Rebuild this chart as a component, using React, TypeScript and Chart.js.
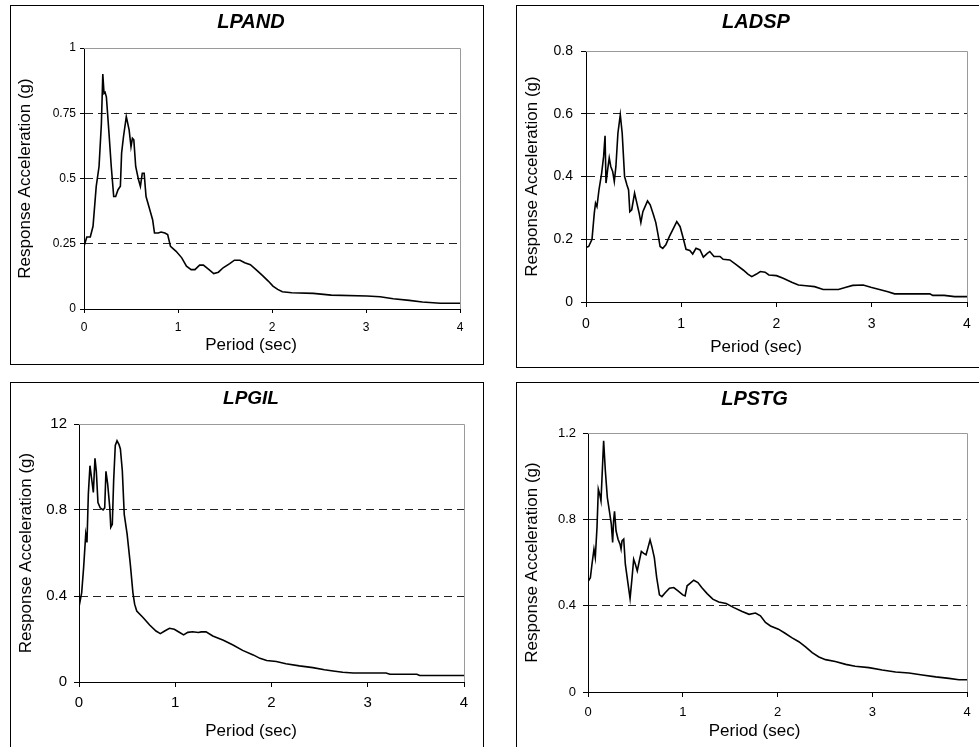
import React, { useEffect, useRef } from 'react';
import { Chart, registerables } from 'chart.js';

Chart.register(...registerables);

// ---------- data ----------
const xTickValues = [0, 1, 2, 3, 4];
const xTickLabels = ['0', '1', '2', '3', '4'];

const lpandPeriod = [0, 0.03, 0.067, 0.096, 0.13, 0.16, 0.185, 0.2, 0.213, 0.224, 0.238, 0.266, 0.29, 0.316, 0.337, 0.362, 0.387, 0.4, 0.42, 0.45, 0.48, 0.5, 0.515, 0.53, 0.55, 0.58, 0.6, 0.62, 0.64, 0.66, 0.7, 0.73, 0.75, 0.79, 0.82, 0.86, 0.89, 0.92, 0.98, 1.04, 1.09, 1.14, 1.18, 1.23, 1.27, 1.33, 1.38, 1.43, 1.48, 1.55, 1.6, 1.66, 1.71, 1.77, 1.83, 1.9, 1.96, 2.01, 2.06, 2.11, 2.21, 2.44, 2.63, 3.01, 3.15, 3.29, 3.46, 3.6, 3.79, 4.0];
const lpandAccel = [0.24, 0.276, 0.276, 0.317, 0.47, 0.546, 0.71, 0.9, 0.826, 0.83, 0.813, 0.673, 0.546, 0.431, 0.431, 0.457, 0.47, 0.597, 0.66, 0.737, 0.686, 0.622, 0.654, 0.648, 0.546, 0.495, 0.47, 0.52, 0.52, 0.431, 0.38, 0.342, 0.291, 0.291, 0.295, 0.291, 0.285, 0.24, 0.221, 0.196, 0.164, 0.151, 0.151, 0.168, 0.168, 0.151, 0.136, 0.141, 0.158, 0.174, 0.187, 0.187, 0.177, 0.17, 0.151, 0.128, 0.107, 0.088, 0.075, 0.066, 0.062, 0.06, 0.053, 0.05, 0.047, 0.039, 0.033, 0.027, 0.022, 0.022];
const lpandYTicks = [0, 0.25, 0.5, 0.75, 1];
const lpandYLabels = ['0', '0.25', '0.5', '0.75', '1'];

const ladspPeriod = [0, 0.028, 0.063, 0.087, 0.1, 0.115, 0.136, 0.164, 0.185, 0.2, 0.21, 0.227, 0.244, 0.26, 0.28, 0.297, 0.314, 0.335, 0.36, 0.38, 0.405, 0.43, 0.447, 0.46, 0.48, 0.51, 0.534, 0.558, 0.576, 0.597, 0.62, 0.646, 0.674, 0.708, 0.733, 0.754, 0.778, 0.806, 0.838, 0.876, 0.91, 0.953, 0.988, 1.016, 1.05, 1.09, 1.12, 1.155, 1.197, 1.232, 1.274, 1.3, 1.344, 1.407, 1.44, 1.51, 1.58, 1.65, 1.7, 1.74, 1.79, 1.83, 1.88, 1.92, 2.0, 2.07, 2.16, 2.23, 2.31, 2.4, 2.49, 2.65, 2.73, 2.8, 2.91, 2.99, 3.08, 3.17, 3.24, 3.4, 3.61, 3.64, 3.76, 3.87, 4.0];
const ladspAccel = [0.174, 0.177, 0.2, 0.283, 0.315, 0.304, 0.357, 0.41, 0.464, 0.53, 0.379, 0.421, 0.459, 0.432, 0.416, 0.384, 0.432, 0.538, 0.597, 0.538, 0.4, 0.373, 0.357, 0.288, 0.294, 0.347, 0.315, 0.283, 0.253, 0.288, 0.304, 0.322, 0.31, 0.278, 0.253, 0.219, 0.177, 0.171, 0.182, 0.209, 0.23, 0.256, 0.24, 0.209, 0.168, 0.164, 0.153, 0.171, 0.166, 0.143, 0.155, 0.161, 0.145, 0.145, 0.136, 0.134, 0.118, 0.102, 0.089, 0.081, 0.089, 0.097, 0.095, 0.086, 0.084, 0.076, 0.063, 0.054, 0.052, 0.049, 0.04, 0.04, 0.047, 0.053, 0.054, 0.047, 0.04, 0.033, 0.026, 0.026, 0.026, 0.021, 0.021, 0.017, 0.017];
const ladspYTicks = [0, 0.2, 0.4, 0.6, 0.8];
const ladspYLabels = ['0', '0.2', '0.4', '0.6', '0.8'];

const lpgilPeriod = [0, 0.028, 0.048, 0.07, 0.083, 0.097, 0.114, 0.13, 0.149, 0.166, 0.18, 0.197, 0.22, 0.25, 0.267, 0.28, 0.298, 0.32, 0.33, 0.346, 0.36, 0.377, 0.395, 0.416, 0.43, 0.45, 0.47, 0.5, 0.533, 0.56, 0.578, 0.6, 0.665, 0.734, 0.8, 0.845, 0.89, 0.94, 0.99, 1.046, 1.087, 1.13, 1.18, 1.24, 1.27, 1.32, 1.39, 1.5, 1.6, 1.7, 1.81, 1.88, 1.95, 2.05, 2.15, 2.29, 2.43, 2.55, 2.64, 2.74, 2.85, 3.19, 3.23, 3.51, 3.54, 4.0];
const lpgilAccel = [0.35, 0.416, 0.532, 0.688, 0.649, 0.874, 1.006, 0.95, 0.882, 1.04, 0.98, 0.835, 0.81, 0.8, 0.81, 0.98, 0.92, 0.81, 0.72, 0.734, 0.936, 1.1, 1.122, 1.104, 1.084, 0.983, 0.78, 0.688, 0.548, 0.416, 0.362, 0.33, 0.3, 0.265, 0.237, 0.225, 0.237, 0.25, 0.245, 0.23, 0.219, 0.231, 0.234, 0.23, 0.233, 0.233, 0.214, 0.194, 0.172, 0.147, 0.126, 0.11, 0.1, 0.095, 0.085, 0.075, 0.067, 0.057, 0.051, 0.045, 0.042, 0.042, 0.036, 0.036, 0.03, 0.03];
const lpgilYTicks = [0, 0.4, 0.8, 1.2];
const lpgilYLabels = ['0', '0.4', '0.8', '12'];

const lpstgPeriod = [0, 0.025, 0.042, 0.063, 0.077, 0.095, 0.109, 0.123, 0.137, 0.151, 0.165, 0.183, 0.204, 0.225, 0.246, 0.26, 0.27, 0.28, 0.296, 0.317, 0.338, 0.349, 0.359, 0.377, 0.394, 0.423, 0.444, 0.465, 0.482, 0.5, 0.52, 0.542, 0.563, 0.588, 0.613, 0.634, 0.655, 0.676, 0.7, 0.725, 0.754, 0.78, 0.817, 0.86, 0.905, 0.95, 1.0, 1.025, 1.046, 1.08, 1.116, 1.16, 1.2, 1.257, 1.317, 1.38, 1.458, 1.54, 1.627, 1.7, 1.768, 1.82, 1.873, 1.926, 2.01, 2.08, 2.15, 2.225, 2.296, 2.366, 2.437, 2.507, 2.61, 2.72, 2.82, 2.965, 3.105, 3.246, 3.387, 3.528, 3.67, 3.81, 3.915, 4.0];
const lpstgAccel = [0.512, 0.53, 0.592, 0.662, 0.623, 0.762, 0.94, 0.917, 0.886, 1.025, 1.164, 1.025, 0.901, 0.84, 0.778, 0.693, 0.793, 0.837, 0.747, 0.708, 0.685, 0.662, 0.7, 0.708, 0.592, 0.5, 0.433, 0.53, 0.615, 0.592, 0.561, 0.608, 0.651, 0.642, 0.636, 0.67, 0.705, 0.67, 0.623, 0.53, 0.45, 0.442, 0.461, 0.481, 0.484, 0.468, 0.45, 0.445, 0.492, 0.504, 0.518, 0.507, 0.484, 0.456, 0.43, 0.417, 0.41, 0.391, 0.373, 0.36, 0.366, 0.353, 0.322, 0.306, 0.291, 0.272, 0.252, 0.233, 0.209, 0.182, 0.162, 0.15, 0.141, 0.128, 0.119, 0.113, 0.102, 0.093, 0.088, 0.079, 0.07, 0.063, 0.057, 0.057];
const lpstgYTicks = [0, 0.4, 0.8, 1.2];
const lpstgYLabels = ['0', '0.4', '0.8', '1.2'];

const xAxisTitle = 'Period (sec)';
const yAxisTitle = 'Response Acceleration (g)';

// ---------- layout (page pixel geometry) ----------
type Geo = {
  box: { x: number; y: number; w: number; h: number };
  plot: { l: number; t: number; r: number; b: number };
  center: number; titleY: number; titleSize: number;
  xTitleY: number; yTitleX: number;
  tickSize: number; tickLen: number; yPad: number; xPad: number;
};

const FONT = "'Liberation Sans', Arial, Helvetica, sans-serif";
const AXIS_TITLE_SIZE = 17;

const panels = [
  {
    title: 'LPAND', period: lpandPeriod, accel: lpandAccel, yTicks: lpandYTicks, yLabels: lpandYLabels,
    geo: { box: { x: 10, y: 5, w: 474, h: 360 }, plot: { l: 84, t: 48, r: 460, b: 309 }, center: 251, titleY: 22, titleSize: 20, xTitleY: 345, yTitleX: 25, tickSize: 12, tickLen: 4, yPad: 4, xPad: 7.8 } as Geo,
  },
  {
    title: 'LADSP', period: ladspPeriod, accel: ladspAccel, yTicks: ladspYTicks, yLabels: ladspYLabels,
    geo: { box: { x: 516, y: 5, w: 500, h: 363 }, plot: { l: 586, t: 51, r: 967, b: 302 }, center: 756, titleY: 22.5, titleSize: 20, xTitleY: 347.5, yTitleX: 532, tickSize: 14, tickLen: 5, yPad: 8, xPad: 8.6 } as Geo,
  },
  {
    title: 'LPGIL', period: lpgilPeriod, accel: lpgilAccel, yTicks: lpgilYTicks, yLabels: lpgilYLabels,
    geo: { box: { x: 10, y: 382, w: 474, h: 400 }, plot: { l: 79, t: 424, r: 464, b: 682 }, center: 251, titleY: 399, titleSize: 19, xTitleY: 731.7, yTitleX: 26, tickSize: 15, tickLen: 5, yPad: 7, xPad: 6.5 } as Geo,
  },
  {
    title: 'LPSTG', period: lpstgPeriod, accel: lpstgAccel, yTicks: lpstgYTicks, yLabels: lpstgYLabels,
    geo: { box: { x: 516, y: 382, w: 500, h: 400 }, plot: { l: 588, t: 433, r: 967, b: 692 }, center: 754.5, titleY: 399.7, titleSize: 20, xTitleY: 731, yTitleX: 532, tickSize: 13, tickLen: 5, yPad: 7, xPad: 7.7 } as Geo,
  },
];

const framePlugin = {
  id: 'greyFrame',
  beforeDatasetsDraw(chart: any) {
    const { ctx, chartArea: a } = chart;
    ctx.save();
    ctx.strokeStyle = '#9a9a9a';
    ctx.lineWidth = 1;
    ctx.beginPath();
    ctx.moveTo(a.left, Math.round(a.top) + 0.5);
    ctx.lineTo(Math.round(a.right) + 0.5, Math.round(a.top) + 0.5);
    ctx.lineTo(Math.round(a.right) + 0.5, a.bottom);
    ctx.stroke();
    ctx.restore();
  },
};

function canvasRect(g: Geo) {
  const cx = g.box.x + 1;
  const cy = g.box.y + 1;
  const cw = Math.round(2 * (g.center - cx));
  const innerBottom = Math.min(g.box.y + g.box.h - 1, 747);
  const ch = innerBottom - cy;
  return { cx, cy, cw, ch };
}

function buildConfig(p: typeof panels[number]) {
  const g = p.geo;
  const { cx, cy, cw, ch } = canvasRect(g);
  const plotT = g.plot.t - cy;
  const plotB = g.plot.b - cy;
  const tPadTop = g.titleY - cy - g.titleSize / 2;
  const tPadBottom = plotT - g.titleSize - tPadTop;
  const hx = g.xTitleY - g.plot.b - AXIS_TITLE_SIZE / 2;
  const sPadBottom = ch - plotB - hx - AXIS_TITLE_SIZE;
  const yWidth = g.plot.l - cx;
  const rightGap = cw - (g.plot.r - cx);
  const yTitlePad = g.yTitleX - cx - AXIS_TITLE_SIZE / 2;
  const yMax = p.yTicks[p.yTicks.length - 1];

  return {
    type: 'line' as const,
    data: {
      datasets: [
        {
          data: p.period.map((t, i) => ({ x: t, y: p.accel[i] })),
          borderColor: '#000',
          borderWidth: 1.6,
          pointRadius: 0,
          tension: 0,
          fill: false,
        },
      ],
    },
    options: {
      responsive: false,
      animation: false as const,
      devicePixelRatio: 1,
      layout: { padding: 0 },
      plugins: {
        legend: { display: false },
        tooltip: { enabled: false },
        title: {
          display: true,
          text: p.title,
          color: '#000',
          font: { family: FONT, size: g.titleSize, weight: 'bold' as const, style: 'italic' as const, lineHeight: 1 },
          padding: { top: tPadTop, bottom: tPadBottom },
        },
        subtitle: {
          display: true,
          position: 'bottom' as const,
          text: xAxisTitle,
          color: '#000',
          font: { family: FONT, size: AXIS_TITLE_SIZE, lineHeight: 1 },
          padding: { top: 0, bottom: sPadBottom },
        },
      },
      scales: {
        x: {
          type: 'linear' as const,
          min: 0,
          max: 4,
          afterBuildTicks: (s: any) => { s.ticks = xTickValues.map((v) => ({ value: v })); },
          afterFit: (s: any) => { s.height = hx; },
          ticks: {
            callback: (_v: any, i: number) => xTickLabels[i],
            color: '#000',
            font: { family: FONT, size: g.tickSize },
            padding: g.xPad,
            maxRotation: 0,
          },
          grid: { drawOnChartArea: false, drawTicks: true, tickLength: g.tickLen, tickColor: '#000', tickBorderDash: [], color: '#000' },
          border: { display: true, color: '#000', width: 1 },
        },
        y: {
          type: 'linear' as const,
          min: 0,
          max: yMax,
          afterBuildTicks: (s: any) => { s.ticks = p.yTicks.map((v) => ({ value: v })); },
          afterFit: (s: any) => { s.width = yWidth; },
          ticks: {
            callback: (_v: any, i: number) => p.yLabels[i],
            color: '#000',
            font: { family: FONT, size: g.tickSize },
            padding: g.yPad,
          },
          title: {
            display: true,
            text: yAxisTitle,
            color: '#000',
            font: { family: FONT, size: AXIS_TITLE_SIZE, lineHeight: 1 },
            padding: { top: yTitlePad, bottom: 0 },
          },
          grid: {
            drawOnChartArea: true,
            drawTicks: true,
            tickLength: g.tickLen,
            tickColor: '#000',
            tickBorderDash: [],
            lineWidth: 1,
            color: (c: any) => (c.index === 0 || c.index === p.yTicks.length - 1 ? 'rgba(0,0,0,0)' : '#222'),
          },
          border: { display: true, color: '#000', width: 1, dash: [8, 5] },
        },
        yr: {
          type: 'linear' as const,
          position: 'right' as const,
          display: true,
          min: 0,
          max: 1,
          afterFit: (s: any) => { s.width = rightGap; },
          ticks: { display: false },
          grid: { display: false, drawTicks: false },
          border: { display: false },
        },
      },
    },
    plugins: [framePlugin],
  };
}

function Panel({ p }: { p: typeof panels[number] }) {
  const ref = useRef<HTMLCanvasElement>(null);
  const g = p.geo;
  const { cx, cy, cw, ch } = canvasRect(g);
  useEffect(() => {
    if (!ref.current) return;
    const chart = new Chart(ref.current, buildConfig(p) as any);
    return () => chart.destroy();
  }, []);
  return (
    <>
      <div
        style={{
          position: 'absolute',
          left: g.box.x,
          top: g.box.y,
          width: g.box.w,
          height: g.box.h,
          border: '1px solid #000',
          boxSizing: 'border-box',
        }}
      />
      <canvas
        ref={ref}
        width={cw}
        height={ch}
        style={{ position: 'absolute', left: cx, top: cy, width: cw, height: ch }}
      />
    </>
  );
}

export default function App() {
  return (
    <div
      style={{
        position: 'absolute',
        left: 0,
        top: 0,
        width: 979,
        height: 747,
        overflow: 'hidden',
        background: '#fff',
      }}
    >
      {panels.map((p) => (
        <Panel key={p.title} p={p} />
      ))}
    </div>
  );
}
